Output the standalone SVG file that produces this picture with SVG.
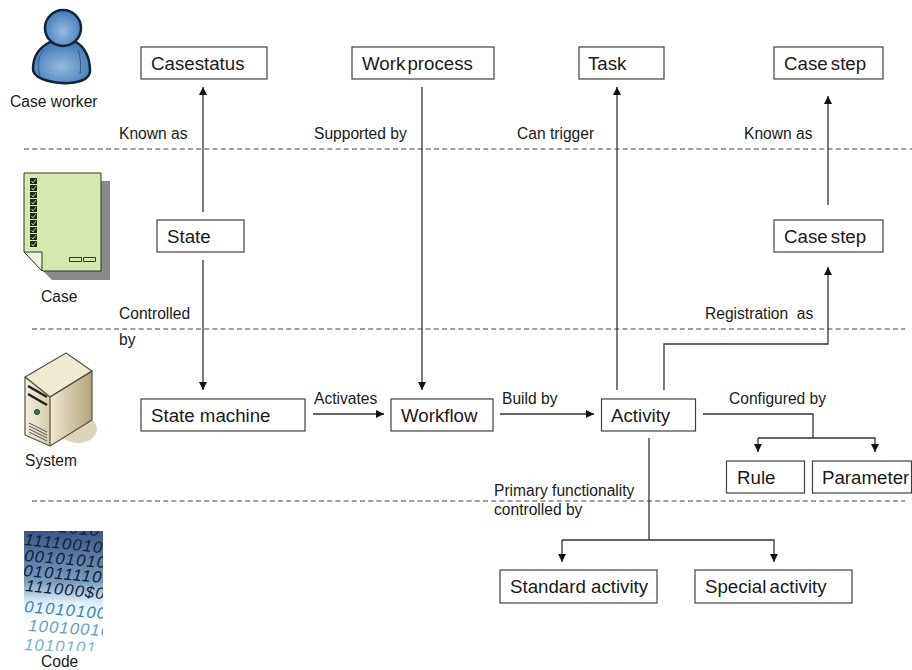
<svg xmlns="http://www.w3.org/2000/svg" width="912" height="670" viewBox="0 0 912 670">
<style>
text{font-family:"Liberation Sans",Arial,sans-serif;fill:#1a1a1a}
.n{font-size:18.7px}
.l{font-size:15.600px}
.b{fill:#fff;stroke:#404040;stroke-width:1.2}
.d{fill:none;stroke:#404040;stroke-width:1;stroke-dasharray:5 3.2}
.c{fill:none;stroke:#333;stroke-width:1.3}
.a{marker-end:url(#ah)}
.bin{font-family:"Liberation Sans",Arial,sans-serif;font-style:italic;font-size:16.500px;letter-spacing:1.200px}
</style>
<defs>
<marker id="ah" markerUnits="userSpaceOnUse" markerWidth="9" markerHeight="9" refX="8" refY="4" orient="auto"><path d="M0 0L8 4L0 8Z" fill="#111"/></marker>
<radialGradient id="pg" cx=".5" cy=".6" r=".6"><stop offset="0" stop-color="#93bbe3"/><stop offset="1" stop-color="#3f79b5"/></radialGradient>
<linearGradient id="sf" x1="0" x2="1"><stop offset="0" stop-color="#f4efdf"/><stop offset="1" stop-color="#d6ccae"/></linearGradient>
<linearGradient id="ss" x1="0" x2="1"><stop offset="0" stop-color="#f0e8d2"/><stop offset="1" stop-color="#b3a47c"/></linearGradient>
<linearGradient id="cg" x1="0" x2="0" y1="0" y2="1"><stop offset="0" stop-color="#3c5682"/><stop offset=".42" stop-color="#7a9bbd"/><stop offset=".6" stop-color="#e0f0f8"/><stop offset=".8" stop-color="#fff"/></linearGradient>
<clipPath id="cc"><rect x="24" y="531" width="79" height="120"/></clipPath>
</defs>

<g id="separators">
<path class="d" d="M24 149H912"/>
<path class="d" d="M32 329H905"/>
<path class="d" d="M32 501H905"/>
</g>

<g id="connectors">
<path class="c a" d="M203 212V87"/>
<path class="c a" d="M203 260V390"/>
<path class="c a" d="M422 87V390"/>
<path class="c a" d="M617 390V87"/>
<path class="c a" d="M828 205V96"/>
<path class="c a" d="M664 390V344H828V267"/>
<path class="c a" d="M313 414H384"/>
<path class="c a" d="M500 414H594"/>
<path class="c" d="M703 414H813V438"/>
<path class="c a" d="M758 438H875V452"/>
<path class="c a" d="M758 438V452"/>
<path class="c" d="M649 438V540"/>
<path class="c a" d="M562 540H774V562"/>
<path class="c a" d="M562 540V562"/>
</g>

<g id="labels" class="l">
<text x="119" y="138.500">Known as</text>
<text x="314" y="138.500">Supported by</text>
<text x="517" y="138.500">Can trigger</text>
<text x="744" y="138.500">Known as</text>
<text x="119" y="318.500">Controlled</text>
<text x="119" y="345">by</text>
<text x="705" y="318.500" xml:space="preserve">Registration  as</text>
<text x="314" y="403.500">Activates</text>
<text x="502" y="403.500">Build by</text>
<text x="729" y="403.500">Configured by</text>
<text x="494" y="496">Primary functionality</text>
<text x="494" y="515">controlled by</text>
</g>

<g id="casestatus"><rect class="b" x="141" y="47" width="126" height="32"/><text class="n" x="151" y="69.500">Casestatus</text></g>
<g id="workprocess"><rect class="b" x="352" y="47" width="142" height="32"/><text class="n" x="362" y="69.500" word-spacing="-3">Work process</text></g>
<g id="task"><rect class="b" x="579" y="47" width="85" height="32"/><text class="n" x="588" y="69.500">Task</text></g>
<g id="casestep-top"><rect class="b" x="774" y="47" width="109" height="32"/><text class="n" x="784" y="69.500" word-spacing="-2">Case step</text></g>
<g id="state"><rect class="b" x="157" y="220" width="87" height="32"/><text class="n" x="167" y="242.500">State</text></g>
<g id="casestep"><rect class="b" x="774" y="220" width="109" height="32"/><text class="n" x="784" y="242.500" word-spacing="-2">Case step</text></g>
<g id="statemachine"><rect class="b" x="141" y="399" width="164" height="32"/><text class="n" x="151" y="421.500">State machine</text></g>
<g id="workflow"><rect class="b" x="391" y="399" width="102" height="32"/><text class="n" x="401" y="421.500">Workflow</text></g>
<g id="activity"><rect class="b" x="601.500" y="399" width="94" height="32"/><text class="n" x="611" y="421.500">Activity</text></g>
<g id="rule"><rect class="b" x="726.500" y="461" width="78" height="32"/><text class="n" x="737" y="483.500">Rule</text></g>
<g id="parameter"><rect class="b" x="812.500" y="461" width="99" height="32"/><text class="n" x="822" y="483.500">Parameter</text></g>
<g id="standardactivity"><rect class="b" x="500" y="570" width="157" height="33"/><text class="n" x="510" y="592.500">Standard activity</text></g>
<g id="specialactivity"><rect class="b" x="695" y="570" width="157" height="33"/><text class="n" x="705" y="592.500" word-spacing="-2">Special activity</text></g>

<g id="caseworker">
<path d="M33 69C33 56 40 47 50 42L76 42C85 47 90 58 90 71C90 80 76 84 62 83C46 82 33 77 33 69Z" fill="url(#pg)" stroke="#10243a" stroke-width="2.500"/>
<circle cx="63" cy="28" r="18" fill="url(#pg)" stroke="#10243a" stroke-width="2.500"/>
<path d="M44 50C37 56 38 68 40 76M78 50C81 58 81 66 80 74" fill="none" stroke="#2d5c8c" stroke-width="1"/>
<text class="l" x="10" y="107">Case worker</text>
</g>
<g id="case">
<path d="M43 271L52 280H110V181H101V271Z" fill="#8a8a8c"/>
<path d="M24 173H101V271H43L24 252Z" fill="#d5e8ad" stroke="#333" stroke-width="1"/>
<path d="M24 252H42V271Z" fill="#eef5d8" stroke="#333" stroke-width="1"/>
<path d="M30 178h7v6h-7zM30 185h7v6h-7zM30 192h7v6h-7zM30 199h7v6h-7zM30 206h7v6h-7zM30 213h7v6h-7zM30 220h7v6h-7zM30 227h7v6h-7zM30 234h7v6h-7zM30 241h7v6h-7z" fill="#1f2a18"/>
<path d="M31.500 181l1.500 2 3-4M31.500 188l1.500 2 3-4M31.500 195l1.500 2 3-4M31.500 202l1.500 2 3-4M31.500 209l1.500 2 3-4M31.500 216l1.500 2 3-4M31.500 223l1.500 2 3-4M31.500 230l1.500 2 3-4M31.500 237l1.500 2 3-4M31.500 244l1.500 2 3-4" fill="none" stroke="#d5e8ad" stroke-width=".8"/>
<path d="M69.500 257.500h12v4h-12zM83.500 257.500h12v4h-12z" fill="#d5e8ad" stroke="#333" stroke-width="1"/>
<text class="l" x="41" y="302">Case</text>
</g>
<g id="system">
<ellipse cx="78" cy="429" rx="19" ry="14" fill="#ddd5ba"/>
<path d="M50 397L92 371V420L50 446Z" fill="url(#ss)"/>
<path d="M25 377L66 353L92 371L50 397Z" fill="#efe9d2" stroke="#55534a" stroke-width="1.200" stroke-linejoin="round"/>
<path d="M25 377L50 397V446L25 435Z" fill="url(#sf)" stroke="#55534a" stroke-width="1.200" stroke-linejoin="round"/>
<path d="M50 397L92 371V420L50 446" fill="none" stroke="#55534a" stroke-width="1.200" stroke-linejoin="round"/>
<path d="M28 386L47 397M28 394L47 405" stroke="#222" stroke-width="2.500" fill="none"/>
<circle cx="37" cy="412" r="2.500" fill="#2f7f55" stroke="#333"/>
<path d="M29 423L47 432M29 426L47 435M29 429L47 438M29 432L47 441" stroke="#444" stroke-width=".9" fill="none"/>
<text class="l" x="25" y="466">System</text>
</g>
<g id="code">
<rect x="24" y="531" width="79" height="120" fill="url(#cg)"/>
<g clip-path="url(#cc)">
<text class="bin" style="fill:#10203c" transform="translate(48 531) rotate(6)">01010</text>
<text class="bin" style="fill:#10203c" transform="translate(24 545) rotate(6)">1111001001</text>
<text class="bin" style="fill:#10203c" transform="translate(24 561) rotate(5)">00101010101</text>
<text class="bin" style="fill:#10203c" transform="translate(23 576) rotate(5)">01011110101</text>
<text class="bin" style="fill:#10203c" transform="translate(25 591) rotate(6)">111000$000</text>
<text class="bin" style="fill:#3f87ab" transform="translate(24 612) rotate(5)">01010100101</text>
<text class="bin" style="fill:#5f9dbd" transform="translate(28 631) rotate(4)">1001001010</text>
<text class="bin" style="fill:#7fb0c8" transform="translate(24 650) rotate(3)">1010101</text>
</g>
<text class="l" x="41" y="667">Code</text>
</g>
</svg>
